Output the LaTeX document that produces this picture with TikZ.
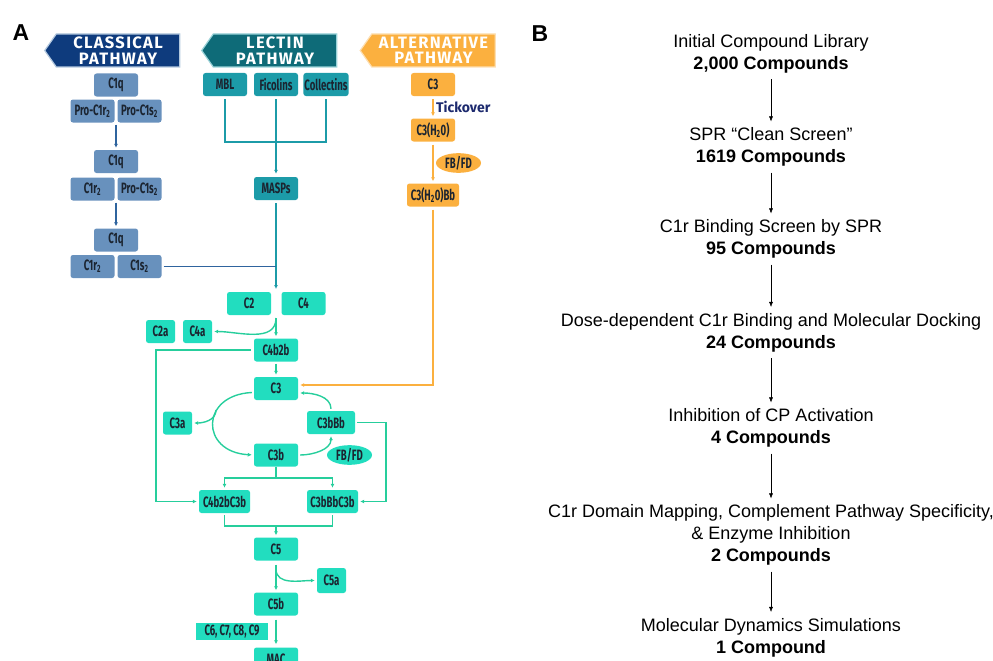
\documentclass[tikz,border=0pt]{standalone}
\usepackage{fontspec}
\setmainfont{Liberation Sans}
\newfontfamily\pathfont[FakeStretch=0.64]{Fira Sans}
\newfontfamily\headfont[LetterSpace=8]{Fira Sans}
\newfontfamily\plainfira{Fira Sans}
\usepackage{xcolor}
\usepackage{tikz}
\usetikzlibrary{arrows.meta, calc, shapes.geometric, shapes.symbols}
\definecolor{classic_navy}{HTML}{0E3B7D}
\definecolor{classic_box}{HTML}{6891BD}
\definecolor{classic_line}{HTML}{2F649E}
\definecolor{lectin_head}{HTML}{0E6B78}
\definecolor{lectin_box}{HTML}{1C9BA8}
\definecolor{alt_orange}{HTML}{FBB03F}
\definecolor{term_green}{HTML}{22DDBF}
\definecolor{term_line}{HTML}{26CE9C}
\definecolor{tick_navy}{HTML}{1D2A6E}
\definecolor{gray3}{HTML}{1B2430}

\begin{document}
\begin{tikzpicture}[x=1pt, y=-1pt,
    >={Latex[length=4pt,width=4pt]},
    box/.style={rounded corners=2.5pt, minimum height=23pt, minimum width=44pt, inner sep=1pt,
      text=gray3, font=\pathfont\bfseries\fontsize{15}{15}\selectfont},
    cbox/.style={box, fill=classic_box},
    lbox/.style={box, fill=lectin_box},
    abox/.style={box, fill=alt_orange},
    gbox/.style={box, fill=term_green},
    oval/.style={ellipse, minimum width=45pt, minimum height=19pt, inner sep=0pt,
      text=gray3, font=\pathfont\bfseries\fontsize{15}{15}\selectfont},
    header/.style={signal, signal to=west, signal pointer angle=110, minimum width=135pt,
      minimum height=33pt, inner sep=0pt, text=white, align=center, line width=1.2pt,
      font=\headfont\bfseries\fontsize{16.5}{15.5}\selectfont},
    panel/.style={font=\bfseries\fontsize{23}{23}\selectfont},
    stagetext/.style={align=center, inner sep=6pt, font=\fontsize{18}{22}\selectfont},
    cline/.style={classic_line, line width=1.3pt},
    lline/.style={lectin_box, line width=1.3pt},
    aline/.style={alt_orange, line width=1.3pt},
    gline/.style={term_line, line width=1.4pt},
    ]
    \useasboundingbox (0,0) rectangle (993,661);
    \clip (0,0) rectangle (993,661);

    \node[panel] (label_a) at (21,33) {A};
    \node[panel] (label_b) at (540,33.5) {B};

    % Pathway headers
    \node[header, fill=classic_navy, draw=classic_box!50] (head_cp) at (118,50.5) {CLASSICAL\\PATHWAY};
    \node[header, fill=lectin_head, draw=lectin_box!45] (head_lp) at (275,50.5) {LECTIN\\PATHWAY};
    \node[header, fill=alt_orange, draw=alt_orange!40] (head_ap) at (433.5,50.5) {ALTERNATIVE\\PATHWAY};

    % Classical pathway
    \begin{scope}
      \node[cbox] (c1q_a) at (116,85) {C1q};
      \node[cbox] (proc1r_a) at (92.5,111) {Pro-C1r\textsubscript{2}};
      \node[cbox] (proc1s_a) at (139.5,111) {Pro-C1s\textsubscript{2}};
      \node[cbox] (c1q_b) at (116,161.5) {C1q};
      \node[cbox] (c1r_b) at (92.5,189) {C1r\textsubscript{2}};
      \node[cbox] (proc1s_b) at (139.5,189) {Pro-C1s\textsubscript{2}};
      \node[cbox] (c1q_c) at (116,240) {C1q};
      \node[cbox] (c1r_c) at (92.5,266.5) {C1r\textsubscript{2}};
      \node[cbox] (c1s_c) at (139.5,266.5) {C1s\textsubscript{2}};

      \draw[cline, ->, shorten <=2pt, shorten >=2pt] ($(proc1r_a.south)!.5!(proc1s_a.south)$) -- (c1q_b.north);
      \draw[cline, ->, shorten <=2pt, shorten >=2pt] ($(c1r_b.south)!.5!(proc1s_b.south)$) -- (c1q_c.north);
    \end{scope}

    % Lectin pathway
    \begin{scope}
      \node[lbox] (mbl) at (225,84.5) {MBL};
      \node[lbox] (ficolins) at (276,84.5) {Ficolins};
      \node[lbox] (collectins) at (326,84.5) {Collectins};
      \node[lbox] (masps) at (276,188.5) {MASPs};

      \coordinate (lec_bar) at (276,142);
      \draw[lline, shorten <=3pt] (mbl.south) |- (lec_bar);
      \draw[lline, shorten >=3pt] (lec_bar) -| (collectins.south);
      \draw[lline, ->, shorten <=3pt, shorten >=3pt] (ficolins.south) -- (masps.north);

      \coordinate (cp_in) at (276,289);
      \draw[lline, ->, shorten <=3pt] (masps.south) -- (cp_in);
      \draw[cline, shorten <=2pt] (c1s_c.east) -- (c1s_c.east -| cp_in);
    \end{scope}

    % Alternative pathway
    \begin{scope}
      \node[abox] (c3_alt) at (433,84.5) {C3};
      \node[abox] (c3h) at (433,130) {C3(H\textsubscript{2}0)};
      \node[abox, minimum width=52pt] (c3hbb) at (433,195) {C3(H\textsubscript{2}0)Bb};
      \node[oval, fill=alt_orange] (fbfd_alt) at (458.5,163) {FB/FD};

      \draw[aline, ->, shorten <=3pt, shorten >=2pt] (c3_alt.south) -- (c3h.north)
        node[midway, right, inner sep=2.5pt, text=tick_navy, font=\plainfira\bfseries\fontsize{14}{14}\selectfont] (tickover) {Tickover};
      \draw[aline, ->, shorten <=3pt, shorten >=2pt] (c3h.south) -- (c3hbb.north);
    \end{scope}

    % Terminal pathway
    \begin{scope}
      \node[gbox] (c2) at (249,303.5) {C2};
      \node[gbox] (c4) at (303.5,303.5) {C4};
      \node[gbox, minimum width=29pt] (c2a) at (160.5,331.5) {C2a};
      \node[gbox, minimum width=29pt] (c4a) at (197.5,331.5) {C4a};
      \node[gbox] (c4b2b) at (276,350) {C4b2b};
      \node[gbox] (c3) at (276,388.5) {C3};
      \node[gbox, minimum width=29pt] (c3a) at (177.5,423) {C3a};
      \node[gbox, minimum width=48pt] (c3bbb) at (331,422.5) {C3bBb};
      \node[gbox] (c3b) at (276,455) {C3b};
      \node[oval, fill=term_green] (fbfd) at (349.5,455) {FB/FD};
      \node[gbox, minimum width=51pt] (c4b2bc3b) at (224.5,501.5) {C4b2bC3b};
      \node[gbox, minimum width=51pt] (c3bbbc3b) at (332.5,501.5) {C3bBbC3b};
      \node[gbox] (c5) at (276,549) {C5};
      \node[gbox, minimum width=29pt, minimum height=25pt] (c5a) at (331.5,580.5) {C5a};
      \node[gbox] (c5b) at (276,604) {C5b};
      \node[gbox, rounded corners=0pt, minimum height=17pt, minimum width=72pt] (c6to9) at (232,631.5) {C6, C7, C8, C9};
      \node[gbox] (mac) at (276,659) {MAC};

      % C2 and C4 cleavage
      \coordinate (c24_split) at (276,318);
      \draw[gline, ->, shorten >=2pt] (c24_split) -- (c4b2b.north);
      \draw[gline, ->, shorten >=2pt] (c24_split) to[out=-90, in=0] (c4a.east);
      \draw[gline, ->, shorten <=2pt, shorten >=2pt] (c4b2b.south) -- (c3.north);

      % alternative input into C3
      \coordinate (alt_turn) at (433,385);
      \draw[aline, ->, shorten <=3pt, shorten >=2pt] (c3hbb.south) -- (alt_turn) -- (alt_turn -| c3.east);

      % amplification loop
      \coordinate (c3a_split) at (216,410);
      \draw[gline, ->, shorten >=2pt] ($(c3.west)+(-2,4)$) .. controls (200,395) and (200,452) .. (c3b.west);
      \draw[gline, ->, shorten >=2pt] (c3a_split) to[out=-90, in=0] (c3a.east);
      \draw[gline, ->, shorten <=2pt, shorten >=2pt] (c3b.east) to[out=0, in=-90] (c3bbb.south);
      \draw[gline, ->, shorten <=2pt, shorten >=2pt] (c3bbb.north) to[out=90, in=0] ($(c3.east)+(0,4.5)$);

      % side rails to the C5 convertases
      \coordinate (left_rail) at (156,350);
      \draw[gline, ->, shorten <=3pt, shorten >=2pt] (c4b2b.west) -- (left_rail) |- (c4b2bc3b.west);
      \coordinate (right_rail) at (386,422.5);
      \draw[gline, ->, shorten <=2pt, shorten >=2pt] (c3bbb.east) -- (right_rail) |- (c3bbbc3b.east);

      \coordinate (c3b_fork) at (276,478);
      \draw[gline] (c3b.south) -- (c3b_fork);
      \draw[gline, ->, shorten >=2pt] (c3b_fork) -| (c4b2bc3b.north);
      \draw[gline, ->, shorten >=2pt] (c3b_fork) -| (c3bbbc3b.north);

      \coordinate (c5_join) at (276,526);
      \draw[gline, shorten <=2pt] (c4b2bc3b.south) |- (c5_join);
      \draw[gline, shorten >=2pt] (c5_join) -| (c3bbbc3b.south);
      \draw[gline, ->, shorten >=2pt] (c5_join) -- (c5.north);

      % C5 cleavage and MAC
      \coordinate (c5_split) at (276,569);
      \draw[gline, ->, shorten <=4pt, shorten >=2pt] (c5.south) -- (c5b.north);
      \draw[gline, ->, shorten >=2pt] (c5_split) to[out=-90, in=180] (c5a.west);
      \draw[gline, ->, shorten <=4pt, shorten >=3pt] (c5b.south) -- (mac.north);
    \end{scope}

    % Screening funnel
    \begin{scope}[>={Latex[length=5pt,width=4pt]}]
      \node[stagetext] (library) at (771,53.5) {Initial Compound Library\\\textbf{2,000 Compounds}};
      \node[stagetext] (clean) at (771,147) {SPR “Clean Screen”\\\textbf{1619 Compounds}};
      \node[stagetext] (binding) at (771,239) {C1r Binding Screen by SPR\\\textbf{95 Compounds}};
      \node[stagetext] (docking) at (771,332.5) {Dose-dependent C1r Binding and Molecular Docking\\\textbf{24 Compounds}};
      \node[stagetext] (inhibition) at (771,428) {Inhibition of CP Activation\\\textbf{4 Compounds}};
      \node[stagetext] (mapping) at (771,535) {C1r Domain Mapping, Complement Pathway Specificity,\\\& Enzyme Inhibition\\\textbf{2 Compounds}};
      \node[stagetext] (dynamics) at (771,637.5) {Molecular Dynamics Simulations\\\textbf{1 Compound}};

      \draw[->] (library) -- (clean);
      \draw[->] (clean) -- (binding);
      \draw[->] (binding) -- (docking);
      \draw[->] (docking) -- (inhibition);
      \draw[->] (inhibition) -- (mapping);
      \draw[->] (mapping) -- (dynamics);
    \end{scope}
  \end{tikzpicture}
\end{document}
